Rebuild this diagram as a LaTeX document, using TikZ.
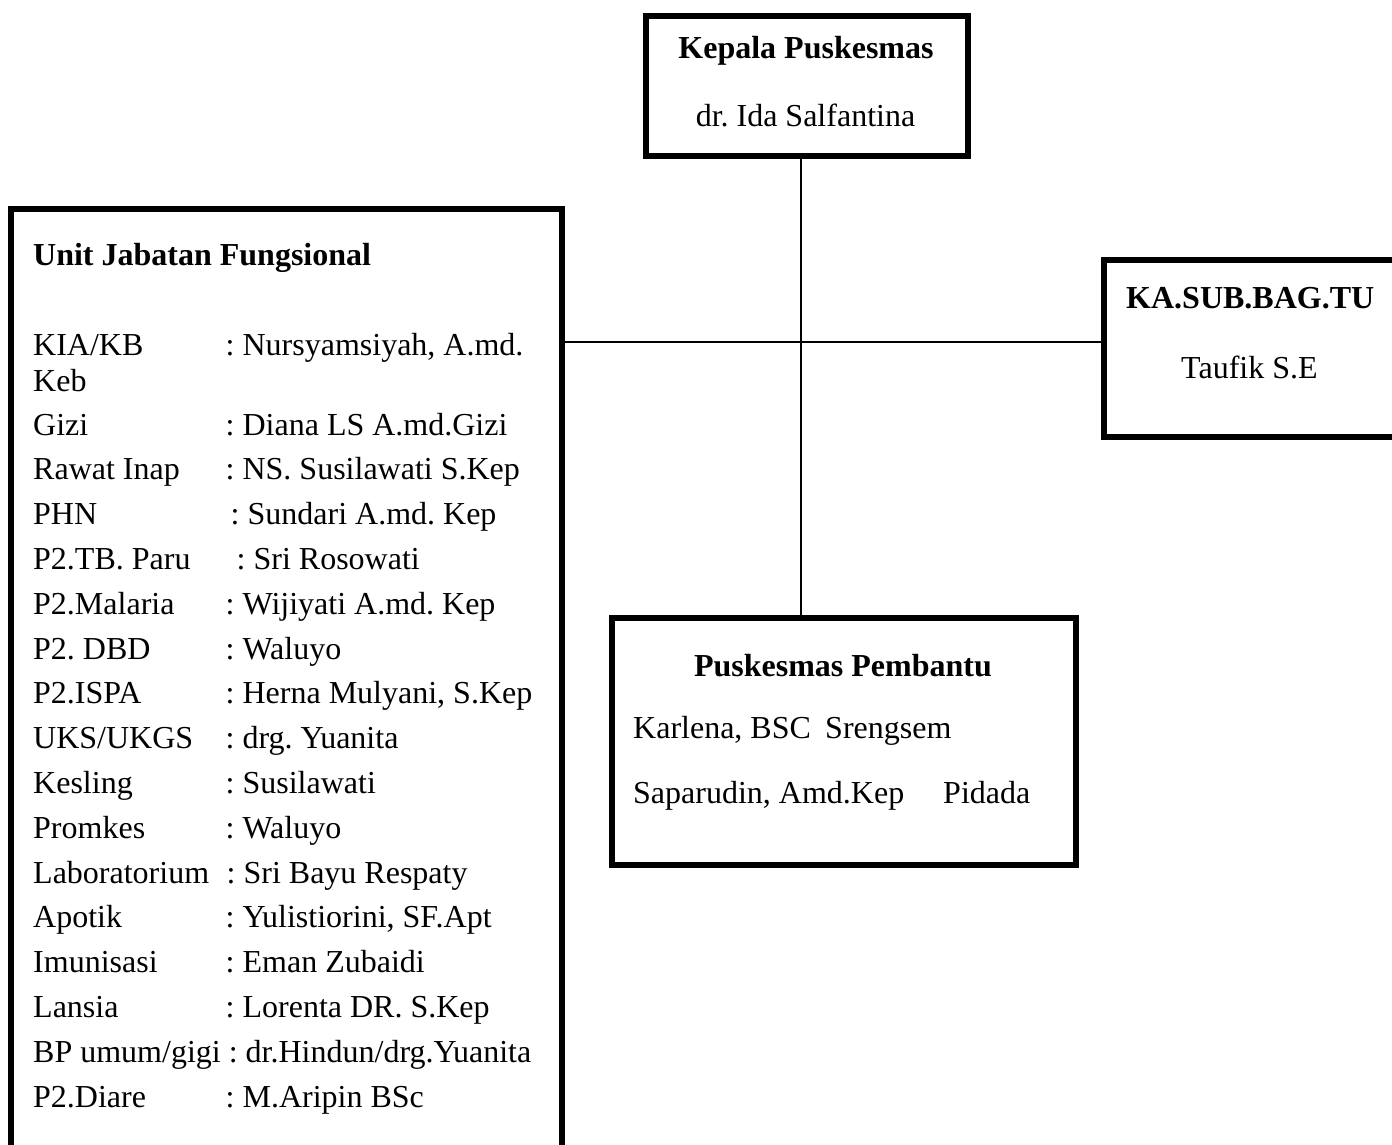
\documentclass[tikz,border=0pt]{standalone}
\usepackage{fontspec}
\setmainfont{Liberation Serif}
\frenchspacing
\begin{document}
\begin{tikzpicture}[x=1pt,y=-1pt,
  box/.style={draw, line width=6pt, inner sep=0pt, outer sep=0pt},
  conn/.style={line width=1.6pt},
  txt/.style={inner sep=0pt, anchor=base west, font=\fontsize{32}{38}\selectfont},
  btxt/.style={inner sep=0pt, anchor=base west, font=\fontsize{32}{38}\selectfont\bfseries},
  ctxt/.style={inner sep=0pt, anchor=base, font=\fontsize{32}{38}\selectfont},
  cbtxt/.style={inner sep=0pt, anchor=base, font=\fontsize{32}{38}\selectfont\bfseries},
]
\clip (0,0) rectangle (1392,1144);
\fill[white] (0,0) rectangle (1392,1144);
% boxes
\node[box, minimum width=322pt, minimum height=140.5pt] (kepala) at (807,85.75) {};
\node[box, minimum width=551pt, minimum height=991pt] (unit) at (286.5,704.5) {};
\node[box, minimum width=316pt, minimum height=177.5pt] (tu) at (1262,348.25) {};
\node[box, minimum width=464pt, minimum height=247pt] (pembantu) at (844,741.5) {};
% connectors
\coordinate (j) at (801,342);
\draw[conn] (j |- kepala.south) -- (j |- pembantu.north);
\draw[conn] (unit.east |- j) -- (tu.west |- j);
% Kepala
\node[cbtxt] (kepalaT) at (806,58) {Kepala Puskesmas};
\node[ctxt] (kepalaN) at (805.5,126) {dr. Ida Salfantina};
% KA.SUB.BAG.TU
\node[btxt] (tuT) at (1126,308) {KA.SUB.BAG.TU};
\node[txt] (tuN) at (1181,378) {Taufik S.E};
% Puskesmas Pembantu
\node[cbtxt] (pemT) at (843,676) {Puskesmas Pembantu};
\node[txt] (pem1) at (633,738) {Karlena, BSC};
\node[txt] (pem1b) at (825,738) {Srengsem};
\node[txt] (pem2) at (633,803) {Saparudin, Amd.Kep};
\node[txt] (pem2b) at (943,803) {Pidada};
% Unit Jabatan Fungsional
\node[btxt] (unitT) at (33,265) {Unit Jabatan Fungsional};
\node[txt] (labK) at (33,355) {KIA/KB};
\node[txt] (valK) at (225.5,355) {: Nursyamsiyah, A.md.};
\node[txt] (valK2) at (33,391) {Keb};
\foreach \i/\lab/\vx/\val in {
  0/{Gizi}/225.5/{: Diana LS A.md.Gizi},
  1/{Rawat Inap}/225.5/{: NS. Susilawati S.Kep},
  2/{PHN}/230.5/{: Sundari A.md. Kep},
  3/{P2.TB. Paru}/236.5/{: Sri Rosowati},
  4/{P2.Malaria}/225.5/{: Wijiyati A.md. Kep},
  5/{P2. DBD}/225.5/{: Waluyo},
  6/{P2.ISPA}/225.5/{: Herna Mulyani, S.Kep},
  7/{UKS/UKGS}/225.5/{: drg. Yuanita},
  8/{Kesling}/225.5/{: Susilawati},
  9/{Promkes}/225.5/{: Waluyo},
  10/{Laboratorium}/226.5/{: Sri Bayu Respaty},
  11/{Apotik}/225.5/{: Yulistiorini, SF.Apt},
  12/{Imunisasi}/225.5/{: Eman Zubaidi},
  13/{Lansia}/225.5/{: Lorenta DR. S.Kep},
  15/{P2.Diare}/225.5/{: M.Aripin BSc}}
{
  \node[txt] (lab\i) at (33,{435+44.8*\i}) {\lab};
  \node[txt] (val\i) at (\vx,{435+44.8*\i}) {\val};
}
\node[txt] (lab14) at (33,{435+44.8*14}) {BP umum/gigi : dr.Hindun/drg.Yuanita};
\end{tikzpicture}
\end{document}
